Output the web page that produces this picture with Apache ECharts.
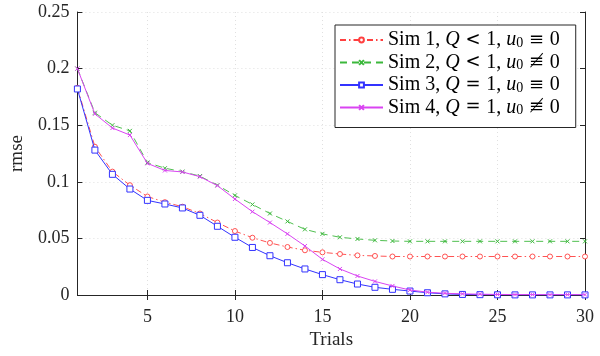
<!DOCTYPE html>
<html>
<head>
<meta charset="utf-8">
<script src="https://cdn.jsdelivr.net/npm/echarts@6/dist/echarts.min.js"></script>
<style>
  html, body { margin: 0; padding: 0; background: #fff; }
  #chart { width: 600px; height: 356px; }
</style>
</head>
<body>
<div id="chart"></div>
<script>
// trial numbers (x axis)
const trials = [1, 2, 3, 4, 5, 6, 7, 8, 9, 10, 11, 12, 13, 14, 15, 16, 17, 18, 19, 20, 21, 22, 23, 24, 25, 26, 27, 28, 29, 30];
const xTicks = [5, 10, 15, 20, 25, 30];

// rmse per trial
const sim1 = [0.183, 0.131, 0.109, 0.097, 0.087, 0.082, 0.078, 0.072, 0.064, 0.0565, 0.0506, 0.046, 0.0424, 0.0395, 0.0377, 0.0362, 0.035, 0.0345, 0.034, 0.034, 0.034, 0.034, 0.034, 0.034, 0.034, 0.034, 0.034, 0.034, 0.034, 0.034];
const sim2 = [0.2, 0.161, 0.15, 0.145, 0.117, 0.112, 0.109, 0.105, 0.097, 0.088, 0.08, 0.072, 0.065, 0.058, 0.054, 0.051, 0.0495, 0.0483, 0.0477, 0.0474, 0.0474, 0.0474, 0.0474, 0.0474, 0.0474, 0.0474, 0.0474, 0.0474, 0.0474, 0.0474];
const sim3 = [0.182, 0.128, 0.1066, 0.0936, 0.0836, 0.0804, 0.0769, 0.0704, 0.0607, 0.051, 0.042, 0.0347, 0.0285, 0.023, 0.018, 0.0135, 0.0097, 0.0068, 0.005, 0.0035, 0.002, 0.001, 0.0005, 0.0003, 0.0002, 0.0001, 0.0001, 0.0001, 0.0001, 0.0001];
const sim4 = [0.2, 0.16, 0.1475, 0.1413, 0.1163, 0.11, 0.1087, 0.1045, 0.0966, 0.0848, 0.0736, 0.064, 0.054, 0.0433, 0.0315, 0.023, 0.0168, 0.012, 0.008, 0.0044, 0.0025, 0.0015, 0.001, 0.0007, 0.0005, 0.0004, 0.0003, 0.0003, 0.0003, 0.0003];

const legendNames = [
    '{r|Sim 1, }{i|Q}{m| < }{r|1, }{i|u}{s|0}{m| \u2261 }{r|0}',
    '{r|Sim 2, }{i|Q}{m| < }{r|1, }{i|u}{s|0}{m| \u2262 }{r|0}',
    '{r|Sim 3, }{i|Q}{m| = }{r|1, }{i|u}{s|0}{m| \u2261 }{r|0}',
    '{r|Sim 4, }{i|Q}{m| = }{r|1, }{i|u}{s|0}{m| \u2262 }{r|0}'
];

const FONT = 'Liberation Serif';
const AX = '#262626';
const RED = '#ff4040';
const GREEN = '#3cb83c';
const BLUE = '#3333ff';
const MAGENTA = '#d944f2';

const chart = echarts.init(document.getElementById('chart'), null, { renderer: 'canvas' });

const pairs = arr => trials.map((t, i) => [t, arr[i]]);

const crossPath = 'path://M0,0L10,10M10,0L0,10';

const baseXAxis = {
    type: 'value',
    min: 1,
    max: 30,
    axisLine: { show: true, lineStyle: { color: AX, width: 1 } },
    axisTick: { show: true, inside: true, length: 5, customValues: xTicks, lineStyle: { color: AX } },
    splitLine: { show: false }
};
const baseYAxis = {
    type: 'value',
    min: 0,
    max: 0.25,
    interval: 0.05,
    axisLine: { show: true, lineStyle: { color: AX, width: 1 } },
    axisTick: { show: true, inside: true, length: 5, lineStyle: { color: AX } },
    splitLine: { show: false }
};

const options = {
    backgroundColor: '#fff',
    animation: false,
    grid: { left: 75, right: 15, top: 12, bottom: 61, containLabel: false },
    legend: {
        orient: 'vertical',
        left: 335,
        top: 25,
        backgroundColor: '#fff',
        borderColor: AX,
        borderWidth: 1,
        borderRadius: 0,
        padding: [5, 16, 10, 4],
        itemGap: 2.5,
        itemWidth: 43,
        itemHeight: 6,
        data: legendNames,
        textStyle: {
            color: '#000',
            fontFamily: FONT,
            fontSize: 20,
            rich: {
                r: { fontFamily: FONT, fontSize: 20, color: '#000', lineHeight: 20 },
                i: { fontFamily: FONT, fontSize: 20, fontStyle: 'italic', color: '#000', lineHeight: 20 },
                s: { fontFamily: FONT, fontSize: 14, color: '#000', lineHeight: 10, verticalAlign: 'bottom' },
                m: { fontFamily: 'DejaVu Serif', fontSize: 18, color: '#000', lineHeight: 20 }
            }
        }
    },
    xAxis: [
        Object.assign({}, baseXAxis, {
            position: 'bottom',
            name: 'Trials',
            nameLocation: 'middle',
            nameGap: 35,
            nameTextStyle: { color: AX, fontFamily: FONT, fontSize: 19 },
            axisLabel: { show: true, customValues: xTicks, color: AX, fontFamily: FONT, fontSize: 18, margin: 13 },
            splitLine: { show: true, lineStyle: { color: '#e0e0e0', type: [1, 3], width: 1 } }
        }),
        Object.assign({}, baseXAxis, { position: 'top', axisLabel: { show: false } })
    ],
    yAxis: [
        Object.assign({}, baseYAxis, {
            position: 'left',
            name: 'rmse',
            nameLocation: 'middle',
            nameGap: 50,
            nameTextStyle: { color: AX, fontFamily: FONT, fontSize: 19 },
            axisLabel: { show: true, color: AX, fontFamily: FONT, fontSize: 18, margin: 8 },
            splitLine: { show: true, lineStyle: { color: '#e0e0e0', type: [1, 3], width: 1 } }
        }),
        Object.assign({}, baseYAxis, { position: 'right', axisLabel: { show: false } })
    ],
    series: [
        {
            name: legendNames[0],
            type: 'line',
            data: pairs(sim1),
            symbol: 'circle',
            symbolSize: 5,
            lineStyle: { color: RED, width: 0.9, type: [6, 3, 1.5, 3] },
            itemStyle: { color: '#fff', borderColor: RED, borderWidth: 0.9 },
            z: 2
        },
        {
            name: legendNames[1],
            type: 'line',
            data: pairs(sim2),
            symbol: crossPath,
            symbolSize: 4,
            lineStyle: { color: GREEN, width: 0.9, type: [7, 5] },
            itemStyle: { color: GREEN, borderColor: GREEN, borderWidth: 1 },
            z: 3
        },
        {
            name: legendNames[2],
            type: 'line',
            data: pairs(sim3),
            symbol: 'rect',
            symbolSize: 6,
            lineStyle: { color: BLUE, width: 1 },
            itemStyle: { color: '#fff', borderColor: BLUE, borderWidth: 1 },
            z: 4
        },
        {
            name: legendNames[3],
            type: 'line',
            data: pairs(sim4),
            symbol: crossPath,
            symbolSize: 4,
            lineStyle: { color: MAGENTA, width: 1 },
            itemStyle: { color: MAGENTA, borderColor: MAGENTA, borderWidth: 1 },
            z: 5
        }
    ]
};

chart.setOption(options);
</script>
</body>
</html>
